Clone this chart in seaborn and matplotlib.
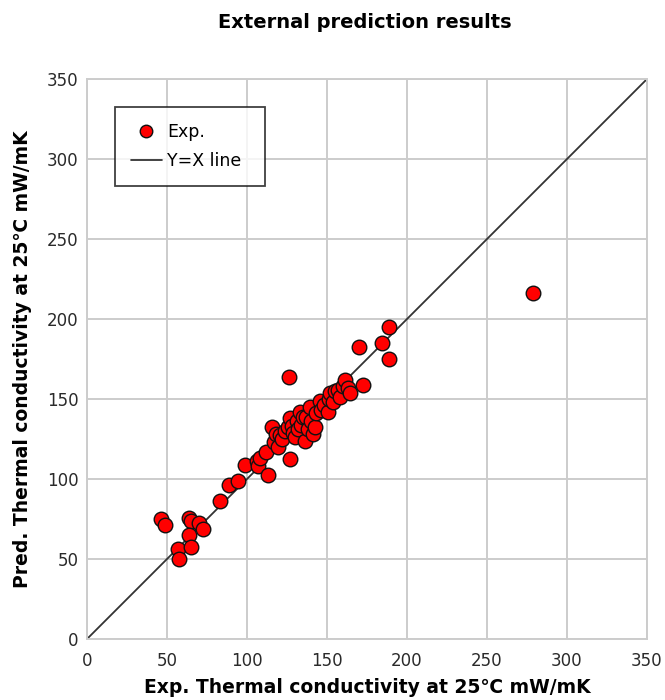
import matplotlib
matplotlib.use("Agg")
import matplotlib.pyplot as plt
import seaborn as sns
import pandas as pd
from matplotlib.lines import Line2D

# Experimental vs predicted thermal conductivity (mW/mK) for the external set
exp_values = [46.5, 48.5, 57, 57.5, 63.5, 65, 63.5, 65, 70, 72.5,
              83, 88.5, 94.5, 98.5, 106, 107, 108, 112, 113, 115.5,
              117, 118, 119.5, 120.5, 122, 124, 125.5, 126, 127, 127,
              128, 129, 130, 131, 132, 133, 134, 135, 136, 137,
              138, 139.5, 140, 141, 142.5, 143, 145.5, 146, 148, 150.5,
              151, 152, 154, 155, 157, 158, 160, 161, 163, 164.5,
              170, 172.5, 184.5, 189, 189, 279]
pred_values = [75, 71, 56.5, 50, 75.5, 74, 65, 57.5, 72.5, 68.5,
               86, 96, 98.5, 108.5, 111.5, 108, 113, 117, 102.5, 132.5,
               123, 128, 120, 127.5, 125, 130, 132.5, 164, 112.5, 138,
               133, 129, 126.5, 136, 131, 142, 134, 139, 124, 138.5,
               131, 145, 136, 128, 132.5, 141, 148.5, 143, 146, 142,
               150, 153.5, 148, 155, 155.5, 151, 158, 162, 157, 153.5,
               182.5, 158.5, 185, 195, 175, 216]
identity_ends = [0, 350]
tick_values = [0, 50, 100, 150, 200, 250, 300, 350]

title_text = "External prediction results"
x_label = "Exp. Thermal conductivity at 25\u2103 mW/mK"
y_label = "Pred. Thermal conductivity at 25\u2103 mW/mK"

sns.set_theme(style="white")
plt.rcParams["font.family"] = ["DejaVu Sans"]
plt.rcParams["text.color"] = "black"

points = pd.DataFrame({"exp": exp_values, "pred": pred_values})
diag = pd.DataFrame({"x": identity_ends, "y": identity_ends})

fig = plt.figure(figsize=(6.65, 7.0), dpi=100)
ax = fig.add_axes([0.1308, 0.0871, 0.8421, 0.8])

grid_color = "#cccccc"
for v in tick_values:
    ax.axvline(v, color=grid_color, lw=1.4, zorder=0)
    ax.axhline(v, color=grid_color, lw=1.4, zorder=0)

sns.lineplot(data=diag, x="x", y="y", ax=ax, color="#333333", lw=1.3,
             zorder=2, legend=False)
sns.scatterplot(data=points, x="exp", y="pred", ax=ax, color="#ff0000",
                edgecolor="#111111", linewidth=1.0, s=110, zorder=3,
                legend=False)

ax.set_xlim(0, 350)
ax.set_ylim(0, 350)
ax.set_xticks(tick_values)
ax.set_yticks(tick_values)
ax.tick_params(axis="both", length=0, labelsize=12, labelcolor="#2a2a2a")
ax.tick_params(axis="y", pad=6)
ax.tick_params(axis="x", pad=9)
for sp in ax.spines.values():
    sp.set_color(grid_color)
    sp.set_linewidth(1.4)

ax.set_xlabel(x_label, fontsize=13.5, fontweight="bold", color="black", labelpad=6)
ax.set_ylabel(y_label, fontsize=13.5, fontweight="bold", color="black", labelpad=11)
fig.text(0.548, 0.968, title_text, ha="center", va="center",
         fontsize=14, fontweight="bold", color="black")

handles = [
    Line2D([], [], marker="o", ls="none", markerfacecolor="#ff0000",
           markeredgecolor="#111111", markersize=9),
    Line2D([], [], color="#222222", lw=1.2),
]
leg = ax.legend(handles, ["Exp.", "Y=X line"], loc="upper left",
                bbox_to_anchor=(0.05, 0.0, 0.268, 0.95), mode="expand",
                frameon=True, fancybox=False, edgecolor="#111111",
                fontsize=12.5, handlelength=1.8, borderpad=0.9,
                labelspacing=0.65, handletextpad=0.3, borderaxespad=0)
leg.get_frame().set_linewidth(1.3)

fig.savefig("out.png", dpi=100, facecolor="white")
